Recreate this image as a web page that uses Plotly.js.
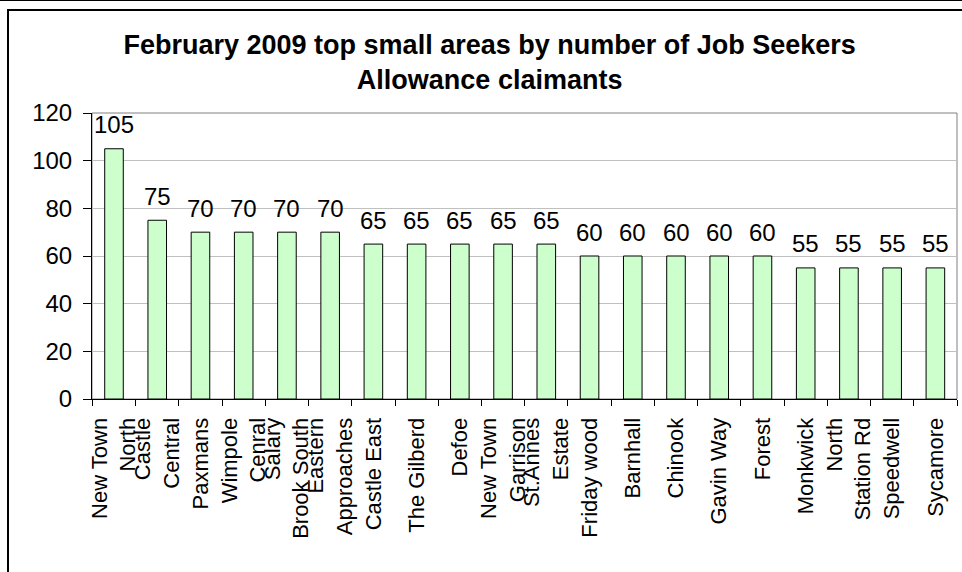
<!DOCTYPE html>
<html>
<head>
<meta charset="utf-8">
<script src="https://cdn.plot.ly/plotly-3.0.1.min.js"></script>
<style>
  html, body { margin: 0; padding: 0; background: #fff; }
  #wrap { position: relative; width: 962px; height: 572px; overflow: hidden; }
  #chart { position: absolute; left: 0; top: 0; width: 962px; height: 572px; }
  #topline { position: absolute; left: 0; top: 0; width: 962px; height: 1px; background: #000; pointer-events: none; }
  #frame { position: absolute; left: 7px; top: 9px; width: 1000px; height: 700px; border-left: 2px solid #000; border-top: 2px solid #000; pointer-events: none; }
</style>
</head>
<body>
<div id="wrap">
  <div id="chart"></div>
  <div id="topline"></div>
  <div id="frame"></div>
</div>
<script>
// Data
const areas = [
  "New Town<br>North",
  "Castle<br>Central",
  "Paxmans",
  "Wimpole<br>Cenral",
  "Salary<br>Brook South",
  "Eastern<br>Approaches",
  "Castle East",
  "The Gilberd",
  "Defoe",
  "New Town<br>Garrison",
  "St.Annes<br>Estate",
  "Friday wood",
  "Barnhall",
  "Chinook",
  "Gavin Way",
  "Forest",
  "Monkwick",
  "North<br>Station Rd",
  "Speedwell",
  "Sycamore"
];
const claimants = [105, 75, 70, 70, 70, 70, 65, 65, 65, 65, 65, 60, 60, 60, 60, 60, 55, 55, 55, 55];
const yTicks = [0, 20, 40, 60, 80, 100, 120];
const titleText = "February 2009 top small areas by number of Job Seekers<br>Allowance claimants";

const FONT = "Liberation Sans, Arial, Helvetica, sans-serif";

const trace = {
  type: "bar",
  x: areas,
  y: claimants,
  marker: { color: "#CCFFCC", line: { color: "#000000", width: 1 } },
  hoverinfo: "x+y"
};

const annotations = areas.map((a, i) => ({
  x: a,
  y: claimants[i],
  xref: "x",
  yref: "y",
  text: String(claimants[i]),
  showarrow: false,
  yanchor: "middle",
  xanchor: "center",
  yshift: 24,
  font: { family: FONT, size: 24, color: "#000" }
}));

const layout = {
  width: 962,
  height: 572,
  margin: { l: 92, r: 5, t: 113, b: 173, pad: 0 },
  paper_bgcolor: "#ffffff",
  plot_bgcolor: "#ffffff",
  font: { family: FONT, color: "#000" },
  title: {
    text: titleText,
    font: { family: FONT, size: 27, color: "#000", weight: "bold" },
    x: 0.509,
    xref: "container",
    xanchor: "center",
    y: 0.905,
    yref: "container",
    yanchor: "top"
  },
  bargap: 0.57,
  showlegend: false,
  xaxis: {
    type: "category",
    tickangle: -90,
    tickfont: { family: FONT, size: 22, color: "#000" },
    ticks: "outside",
    tickson: "boundaries",
    ticklen: 6,
    tickcolor: "#000",
    showline: true,
    linecolor: "#000",
    linewidth: 1,
    showgrid: false,
    zeroline: false,
    ticklabelstandoff: 9,
    fixedrange: true
  },
  yaxis: {
    range: [0, 120],
    tickvals: yTicks,
    ticktext: yTicks.map(String),
    tickfont: { family: FONT, size: 24, color: "#000" },
    ticks: "outside",
    ticklen: 8,
    tickcolor: "#000",
    showline: true,
    linecolor: "#000",
    linewidth: 1,
    showgrid: true,
    gridcolor: "#c0c0c0",
    gridwidth: 1,
    zeroline: false,
    ticklabelstandoff: 6,
    fixedrange: true
  },
  shapes: [{
    type: "rect", xref: "paper", yref: "paper",
    x0: 0, x1: 1, y0: 0, y1: 1,
    line: { color: "#808080", width: 1 },
    layer: "below"
  }],
  annotations: annotations
};

Plotly.newPlot("chart", [trace], layout, { displayModeBar: false, staticPlot: true });
</script>
</body>
</html>
